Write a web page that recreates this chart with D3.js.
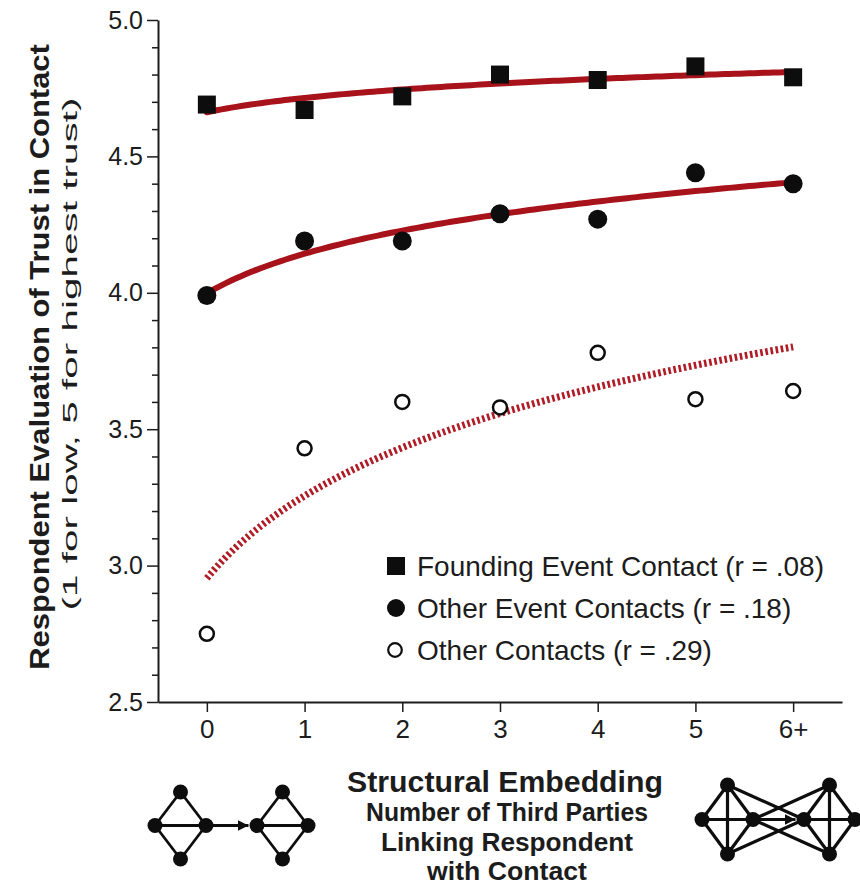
<!DOCTYPE html>
<html>
<head>
<meta charset="utf-8">
<script src="https://cdn.jsdelivr.net/npm/d3@7"></script>
<style>
  body { margin: 0; background: #fff; }
  text { font-family: "Liberation Sans", Arial, Helvetica, sans-serif; fill: #1c1c1c; }
</style>
</head>
<body>
<svg id="chart" width="860" height="888"></svg>
<script>
// Number of third parties linking respondent with contact
const categories = ["0", "1", "2", "3", "4", "5", "6+"];

// Mean trust rating per embedding level
const foundingEvent = [4.69, 4.67, 4.72, 4.80, 4.78, 4.83, 4.79];
const otherEvent    = [3.99, 4.19, 4.19, 4.29, 4.27, 4.44, 4.40];
const otherContacts = [2.75, 3.43, 3.60, 3.58, 3.78, 3.61, 3.64];

const yTickValues = [2.5, 3.0, 3.5, 4.0, 4.5, 5.0];
const yMinorTicks = d3.range(25, 51).map(v => v / 10);

const legendLabels = [
  "Founding Event Contact (r = .08)",
  "Other Event Contacts (r = .18)",
  "Other Contacts (r = .29)"
];

const yTitle = "Respondent Evaluation of Trust in Contact";
const ySubtitle = "(1 for low, 5 for highest trust)";
const xTitle = "Structural Embedding";
const xSubtitle = ["Number of Third Parties", "Linking Respondent", "with Contact"];

const svg = d3.select("#chart");
const RED = "#a8131b";
const INK = "#1c1c1c";

const x = d3.scaleLinear().domain([-0.5, 6.5]).range([158, 842]);
const y = d3.scaleLinear().domain([2.5, 5.0]).range([702, 20]);

// Stretch a text element along its baseline so it spans `len` pixels.
function stretchTo(textSel, cx, cy, angle, len) {
  textSel.each(function () {
    const natural = this.getComputedTextLength();
    const sx = len / natural;
    d3.select(this).attr("transform", `translate(${cx},${cy}) rotate(${angle}) scale(${sx},1)`);
  });
}

// ---- axes ----
const yAxis = d3.axisLeft(y).tickValues(yTickValues).tickFormat(d3.format(".1f"))
  .tickSizeInner(11).tickSizeOuter(0).tickPadding(4);
const gy = svg.append("g").attr("transform", `translate(${x.range()[0]},0)`).call(yAxis);
gy.selectAll(".tick text").attr("font-size", 25).style("font-family", '"Liberation Sans", Arial, sans-serif').attr("fill", INK);
gy.select(".domain").attr("stroke", INK).attr("stroke-width", 2);
gy.selectAll(".tick line").attr("stroke", INK).attr("stroke-width", 1.5);

// minor ticks every 0.1
const yMinor = d3.axisLeft(y).tickValues(yMinorTicks.filter(v => !yTickValues.some(t => Math.abs(t - v) < 1e-9)))
  .tickSize(6).tickFormat("");
const gym = svg.append("g").attr("transform", `translate(${x.range()[0]},0)`).call(yMinor);
gym.select(".domain").remove();
gym.selectAll(".tick line").attr("stroke", INK).attr("stroke-width", 1.5);

const xAxis = d3.axisBottom(x).tickValues(d3.range(categories.length))
  .tickFormat(i => categories[i]).tickSizeInner(10).tickSizeOuter(0).tickPadding(8);
const gx = svg.append("g").attr("transform", `translate(0,${y.range()[0]})`).call(xAxis);
gx.selectAll(".tick text").attr("font-size", 26).style("font-family", '"Liberation Sans", Arial, sans-serif').attr("fill", INK);
gx.select(".domain").attr("stroke", INK).attr("stroke-width", 2);
gx.selectAll(".tick line").attr("stroke", INK).attr("stroke-width", 1.5);

// ---- axis titles ----
svg.append("text")
  .attr("text-anchor", "middle").attr("font-size", 27).attr("font-weight", "bold")
  .text(yTitle)
  .call(stretchTo, 49, 357, -90, 626);
svg.append("text")
  .attr("text-anchor", "middle").attr("font-size", 21)
  .text(ySubtitle)
  .call(stretchTo, 77, 354, -90, 513);

svg.append("text")
  .attr("text-anchor", "middle").attr("font-size", 30).attr("font-weight", "bold")
  .text(xTitle)
  .call(stretchTo, 505, 792, 0, 316);
const subLengths = [282, 252, 160];
svg.selectAll(".xsub").data(xSubtitle).join("text")
  .attr("class", "xsub")
  .attr("text-anchor", "middle").attr("font-size", 25).attr("font-weight", "bold")
  .text(d => d)
  .each(function (d, i) { d3.select(this).call(stretchTo, 507, 821 + i * 29.5, 0, subLengths[i]); });

// ---- logarithmic trend fits: v = a + b * ln(i + 1) ----
function logFit(values) {
  const lx = values.map((_, i) => Math.log(i + 1));
  const mx = d3.mean(lx), my = d3.mean(values);
  const b = d3.sum(lx, (l, i) => (l - mx) * (values[i] - my)) / d3.sum(lx, l => (l - mx) ** 2);
  const a = my - b * mx;
  return t => a + b * Math.log(t + 1);
}
const samples = d3.range(0, 6.0001, 0.05);
const trend = d3.line().x(d => x(d[0])).y(d => y(d[1]));

function drawTrend(values, dashed) {
  const f = logFit(values);
  const p = svg.append("path")
    .datum(samples.map(t => [t, f(t)]))
    .attr("d", trend)
    .attr("fill", "none")
    .attr("stroke", RED);
  if (dashed) p.attr("stroke-width", 7).attr("stroke-dasharray", "2.6,2.6").attr("stroke", "#b01c26");
  else p.attr("stroke-width", 6).attr("stroke-linecap", "round");
}
drawTrend(foundingEvent, false);
drawTrend(otherEvent, false);
drawTrend(otherContacts, true);

// ---- points ----
const sq = 18;
svg.selectAll(".sq").data(foundingEvent).join("rect")
  .attr("x", (d, i) => x(i) - sq / 2).attr("y", d => y(d) - sq / 2)
  .attr("width", sq).attr("height", sq).attr("fill", "#0d0d0d");

svg.selectAll(".dot").data(otherEvent).join("circle")
  .attr("cx", (d, i) => x(i)).attr("cy", d => y(d)).attr("r", 9.5)
  .attr("fill", "#0d0d0d");

svg.selectAll(".ring").data(otherContacts).join("circle")
  .attr("cx", (d, i) => x(i)).attr("cy", d => y(d)).attr("r", 7)
  .attr("fill", "#fff").attr("stroke", "#0d0d0d").attr("stroke-width", 2.5);

// ---- legend ----
const legend = svg.append("g").attr("transform", "translate(396,566)");
const rowH = 42;
legend.append("rect").attr("x", -9).attr("y", -9).attr("width", 18).attr("height", 18).attr("fill", "#0d0d0d");
legend.append("circle").attr("cx", 0).attr("cy", rowH).attr("r", 9).attr("fill", "#0d0d0d");
legend.append("circle").attr("cx", -1).attr("cy", rowH * 2).attr("r", 6.8)
  .attr("fill", "#fff").attr("stroke", "#0d0d0d").attr("stroke-width", 2.2);
legend.selectAll(".lt").data(legendLabels).join("text")
  .attr("x", 21).attr("y", (d, i) => i * rowH + 9.5)
  .attr("font-size", 28)
  .text(d => d);

// ---- network glyphs illustrating embedding ----
const glyphX = d3.scaleLinear().domain([0, 6]);
const glyphY = d3.scaleLinear().domain([0, 1]);

const glyphNodes = [
  { id: "a1", u: 0, v: 0.5 }, { id: "a2", u: 1, v: 0 }, { id: "a3", u: 1, v: 1 }, { id: "a4", u: 2, v: 0.5 },
  { id: "b1", u: 4, v: 0.5 }, { id: "b2", u: 5, v: 0 }, { id: "b3", u: 5, v: 1 }, { id: "b4", u: 6, v: 0.5 }
];
const sparseEdges = [
  ["a1","a2"],["a1","a3"],["a1","a4"],["a2","a4"],["a3","a4"],
  ["b1","b2"],["b1","b3"],["b1","b4"],["b2","b4"],["b3","b4"]
];
const denseEdges = [
  ["a1","a2"],["a1","a3"],["a1","a4"],["a2","a3"],["a2","a4"],["a3","a4"],
  ["b1","b2"],["b1","b3"],["b1","b4"],["b2","b3"],["b2","b4"],["b3","b4"],
  ["a2","b1"],["a3","b1"],["a4","b2"],["a4","b3"]
];

const defs = svg.append("defs");
defs.append("marker").attr("id", "arrowHead")
  .attr("viewBox", "0 0 10 10").attr("refX", 10).attr("refY", 5)
  .attr("markerWidth", 11).attr("markerHeight", 11).attr("markerUnits", "userSpaceOnUse")
  .attr("orient", "auto")
  .append("path").attr("d", "M0,0L10,5L0,10Z").attr("fill", "#0d0d0d");

function drawGlyph(nodes, edges, xr, yr, r, sw) {
  const gxS = glyphX.copy().range(xr), gyS = glyphY.copy().range(yr);
  const pos = new Map(nodes.map(n => [n.id, [gxS(n.u), gyS(n.v)]]));
  const g = svg.append("g");
  g.selectAll("line.e").data(edges).join("line")
    .attr("x1", e => pos.get(e[0])[0]).attr("y1", e => pos.get(e[0])[1])
    .attr("x2", e => pos.get(e[1])[0]).attr("y2", e => pos.get(e[1])[1])
    .attr("stroke", "#0d0d0d").attr("stroke-width", sw);
  const s = pos.get("a4"), t = pos.get("b1");
  g.append("line")
    .attr("x1", s[0]).attr("y1", s[1]).attr("x2", t[0] - r - 1).attr("y2", t[1])
    .attr("stroke", "#0d0d0d").attr("stroke-width", sw)
    .attr("marker-end", "url(#arrowHead)");
  g.selectAll("circle").data(nodes).join("circle")
    .attr("cx", n => pos.get(n.id)[0]).attr("cy", n => pos.get(n.id)[1])
    .attr("r", r).attr("fill", "#0d0d0d");
}
drawGlyph(glyphNodes, sparseEdges, [155, 308], [792, 859], 7.5, 2.8);
drawGlyph(glyphNodes, denseEdges, [702, 855], [785, 854], 7.5, 3.2);
</script>
</body>
</html>
